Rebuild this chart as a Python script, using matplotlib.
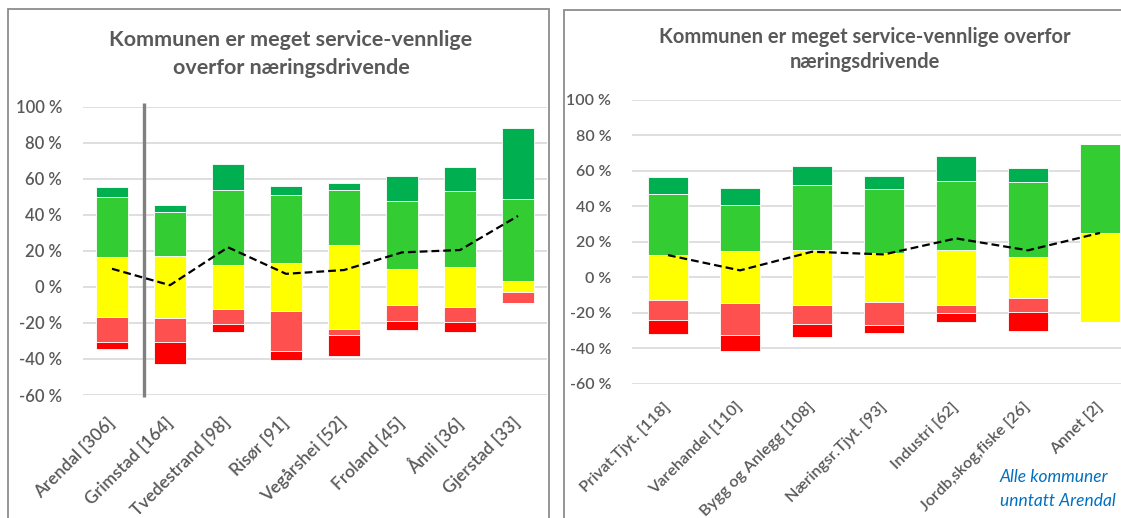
import matplotlib
matplotlib.use("Agg")
import matplotlib.pyplot as plt
from matplotlib.patches import Rectangle
import numpy as np

plt.rcParams['font.family'] = ['Lato', 'DejaVu Sans']

# ---------------- data ----------------
title_lines_left = ["Kommunen er meget service-vennlige", "overfor næringsdrivende"]
title_lines_right = ["Kommunen er meget service-vennlige overfor", "næringsdrivende"]

left_categories = ["Arendal [306]", "Grimstad [164]", "Tvedestrand [98]", "Risør [91]",
                   "Vegårshei [52]", "Froland [45]", "Åmli [36]", "Gjerstad [33]"]
left_fully_disagree = [4.3, 11.9, 4.3, 5.1, 11.5, 4.8, 5.8, 0.0]
left_disagree       = [13.7, 13.5, 8.5, 22.3, 3.7, 8.9, 8.3, 6.1]
left_neutral        = [33.3, 34.6, 24.4, 26.4, 46.6, 20.0, 22.2, 6.1]
left_agree          = [33.3, 24.1, 41.5, 37.5, 30.6, 37.6, 41.9, 45.5]
left_fully_agree    = [5.2, 3.7, 14.4, 5.3, 3.7, 13.9, 13.7, 39.4]
left_line           = [10.0, 0.9, 21.9, 7.2, 9.3, 19.1, 20.4, 39.3]

right_categories = ["Privat.Tjyt. [118]", "Varehandel [110]", "Bygg og Anlegg [108]",
                    "Næringsr.Tjyt. [93]", "Industri [62]", "Jordb,skog,fiske [26]", "Annet [2]"]
right_fully_disagree = [8.2, 9.1, 7.3, 4.3, 4.9, 11.2, 0.0]
right_disagree       = [11.1, 18.0, 10.7, 12.9, 4.9, 7.7, 0.0]
right_neutral        = [25.4, 29.2, 30.9, 27.8, 30.9, 23.2, 50.0]
right_agree          = [34.1, 26.4, 36.7, 35.7, 38.7, 42.2, 50.0]
right_fully_agree    = [9.8, 9.4, 10.3, 7.3, 14.3, 7.8, 0.0]
right_line           = [12.5, 3.9, 14.4, 12.9, 21.9, 15.2, 25.0]

y_ticks = [-60, -40, -20, 0, 20, 40, 60, 80, 100]
note_lines = ["Alle kommuner", "unntatt Arendal"]

# ---------------- style ----------------
C_FA = "#00B050"
C_A = "#33CC33"
C_N = "#FFFF00"
C_D = "#FF5050"
C_FD = "#FF0000"
TXT = "#595959"
GRID = "#D9D9D9"
BORDER = "#8C8C8C"

W, H = 1121, 518
fig = plt.figure(figsize=(W / 100, H / 100), dpi=100)


def fx(px):
    return px / W


def fy(py):
    return 1 - py / H


def draw_panel(ax, cats, fd, d, n, a, fa, line, bar_w, tick_size, label_size, xpad):
    x = np.arange(len(cats))
    fd = np.array(fd); d = np.array(d); n = np.array(n); a = np.array(a); fa = np.array(fa)
    half = n / 2
    kw = dict(width=bar_w, edgecolor="white", linewidth=0.6, zorder=2)
    ax.bar(x, n, bottom=-half, color=C_N, **kw)
    ax.bar(x, a, bottom=half, color=C_A, **kw)
    ax.bar(x, fa, bottom=half + a, color=C_FA, **kw)
    ax.bar(x, -d, bottom=-half, color=C_D, **kw)
    ax.bar(x, -fd, bottom=-half - d, color=C_FD, **kw)
    ax.plot(x, line, color="black", linestyle=(0, (3.5, 1.8)), linewidth=1.6, zorder=4)
    ax.set_xlim(-0.5, len(cats) - 0.5)
    ax.set_ylim(-60, 100)
    ax.set_yticks(y_ticks)
    ax.set_yticklabels([f"{v} %" for v in y_ticks], fontsize=tick_size, color=TXT,
                       fontweight="semibold")
    ax.set_xticks(x)
    ax.set_xticklabels(cats, rotation=45, ha="right", va="center",
                       rotation_mode="anchor", fontsize=label_size, color=TXT,
                       fontweight="semibold")
    ax.tick_params(axis="both", length=0)
    ax.tick_params(axis="y", pad=15)
    ax.tick_params(axis="x", pad=xpad)
    ax.grid(axis="y", color=GRID, linewidth=1.2, zorder=0)
    ax.set_axisbelow(True)
    for s in ax.spines.values():
        s.set_visible(False)
    ax.patch.set_alpha(0)


# panel borders
fig.patches.append(Rectangle((fx(8), fy(530)), fx(549) - fx(8), fy(9) - fy(530),
                             transform=fig.transFigure, fill=False,
                             edgecolor=BORDER, linewidth=1.3, zorder=0))
fig.patches.append(Rectangle((fx(564), fy(530)), fx(1140) - fx(564), fy(10) - fy(530),
                             transform=fig.transFigure, fill=False,
                             edgecolor=BORDER, linewidth=1.3, zorder=0))

# left axes: x from 83 to 547 px, y from 106.5 (100%) to 395 (-60%)
axL = fig.add_axes([fx(83), fy(395), fx(547) - fx(83), fy(106.5) - fy(395)])
draw_panel(axL, left_categories, left_fully_disagree, left_disagree, left_neutral,
           left_agree, left_fully_agree, left_line, 0.56, 12, 12.5, 18)
axL.plot([0.545, 0.545], [-61.2, 102.2], color="#808080", linewidth=2.4,
         clip_on=False, zorder=3, solid_capstyle="butt")

# right axes: x from 632 to 1136 px, y from 99.8 (100%) to 383.8 (-60%)
axR = fig.add_axes([fx(632), fy(383.8), fx(1136) - fx(632), fy(99.8) - fy(383.8)])
draw_panel(axR, right_categories, right_fully_disagree, right_disagree, right_neutral,
           right_agree, right_fully_agree, right_line, 0.56, 11.5, 11.6, 15)

# titles
tl1 = fig.text(fx(291), fy(40), title_lines_left[0], ha="center", va="center",
               fontsize=14, fontweight="bold", color=TXT)
tl2 = fig.text(fx(291), fy(68), title_lines_left[1], ha="center", va="center",
               fontsize=14, fontweight="bold", color=TXT)
tr1 = fig.text(fx(865), fy(37), title_lines_right[0], ha="center", va="center",
               fontsize=13, fontweight="bold", color=TXT)
tr2 = fig.text(fx(865), fy(62), title_lines_right[1], ha="center", va="center",
               fontsize=13, fontweight="bold", color=TXT)
n1 = fig.text(fx(1000), fy(477), note_lines[0], ha="left", va="center",
              fontsize=12, style="italic", color="#0070C0")
n2 = fig.text(fx(1000), fy(501), note_lines[1], ha="left", va="center",
              fontsize=12, style="italic", color="#0070C0")

fig.canvas.draw()
r = fig.canvas.get_renderer()


def fit(t, target, others=()):
    w = t.get_window_extent(renderer=r).width
    s = t.get_fontsize() * target / w
    t.set_fontsize(s)
    for o in others:
        o.set_fontsize(s)


fit(tl1, 364, [tl2])
fit(tr1, 410, [tr2])
fit(n1, 108, [n2])

fig.savefig("out.png", dpi=100)
